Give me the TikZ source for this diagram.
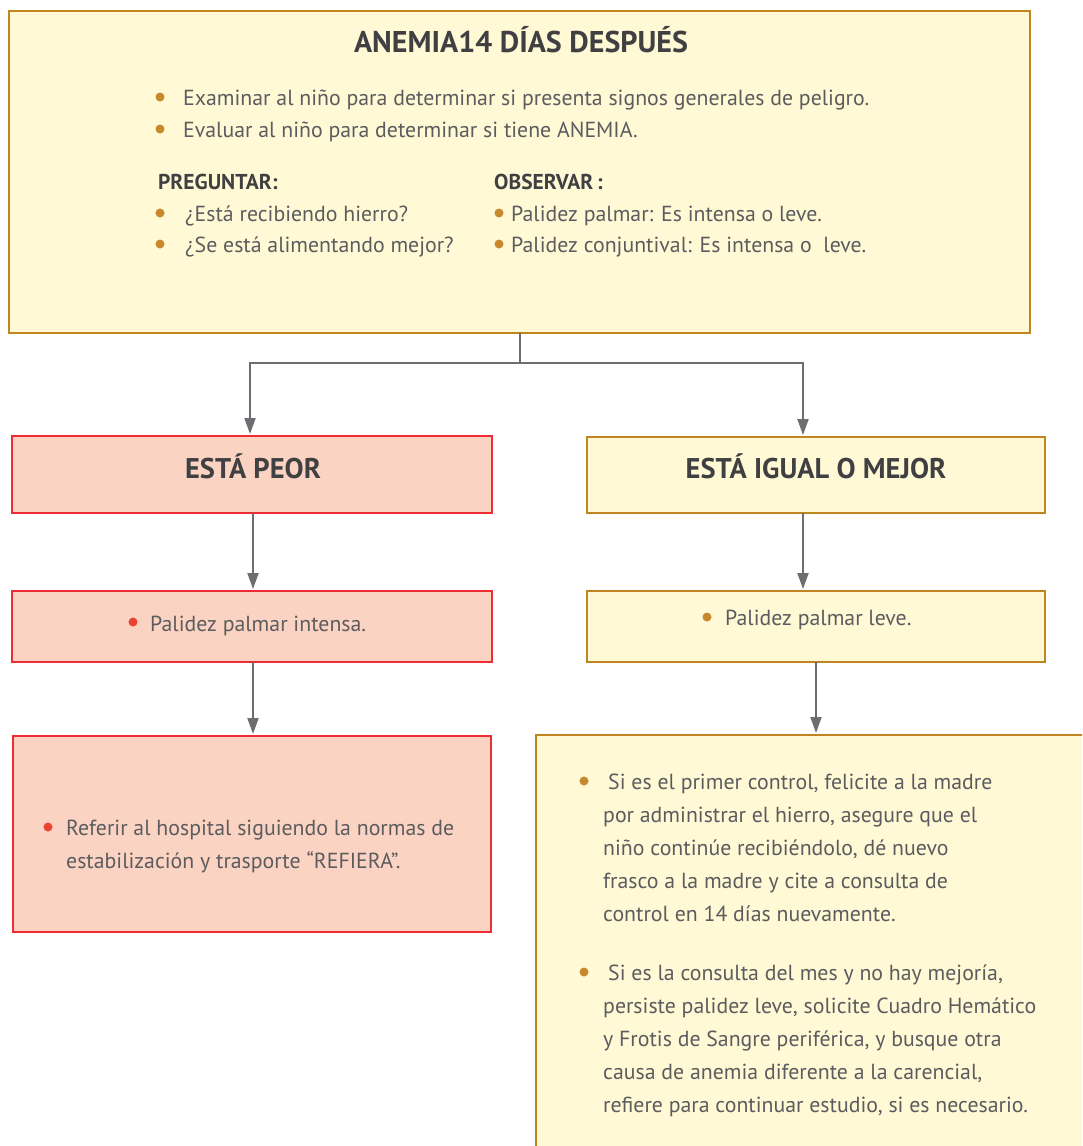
\documentclass[tikz,border=0pt]{standalone}
\usepackage{fontspec}
\setmainfont{PT Sans}
\usetikzlibrary{arrows.meta,calc}
\definecolor{goldline}{HTML}{BF8620}
\definecolor{goldfill}{HTML}{FFF9D5}
\definecolor{redline}{HTML}{EE2C34}
\definecolor{redfill}{HTML}{FBD3C2}
\definecolor{txt}{HTML}{5C5C5F}
\definecolor{head}{HTML}{404042}
\definecolor{golddot}{HTML}{C8892C}
\definecolor{reddot}{HTML}{EA4332}
\definecolor{conn}{HTML}{6D6E71}
\begin{document}
\begin{tikzpicture}[x=1pt,y=-1pt,
  box/.style={draw, line width=2.8pt, anchor=north west, inner sep=0pt, outer sep=0pt},
  goldbox/.style={box, draw=goldline, fill=goldfill},
  redbox/.style={box, draw=redline, fill=redfill},
  body/.style={anchor=base west, inner sep=0pt, text=txt, font=\fontsize{21.8}{33}\selectfont},
  heading/.style={anchor=base, inner sep=0pt, text=head, font=\fontsize{28.5}{32}\selectfont\bfseries},
  subhead/.style={anchor=base west, inner sep=0pt, text=head, font=\fontsize{21.5}{25}\selectfont\bfseries},
  link/.style={draw=conn, line width=2pt},
  flow/.style={link, -{Triangle[width=11pt,length=16pt]}, shorten >=2pt},
]
\useasboundingbox (0,0) rectangle (1082,1146);
\clip (0,0) rectangle (1082,1146);

% boxes
\node[goldbox, minimum width=1021pt, minimum height=322pt] (top) at (9,11) {};
\node[redbox, minimum width=480pt, minimum height=77pt] (peor) at (12,436) {};
\node[goldbox, minimum width=458pt, minimum height=76pt] (igual) at (587,437) {};
\node[redbox, minimum width=480pt, minimum height=71pt] (intensa) at (12,591) {};
\node[goldbox, minimum width=458pt, minimum height=71pt] (leve) at (587,591) {};
\node[redbox, minimum width=478pt, minimum height=196pt] (refiera) at (13,736) {};
\node[goldbox, minimum width=600pt, minimum height=500pt] (control) at (536,735) {};

% connectors
\coordinate (fork) at ($(top.south)+(0,30)$);
\draw[link] (top.south) -- (fork);
\draw[flow] (fork) -| ($(peor.north)+(-2,0)$);
\draw[flow] (fork) -| ($(igual.north west)+(216,0)$);
\draw[flow] ($(peor.south)+(1,0)$) -- ($(intensa.north)+(1,0)$);
\draw[flow] ($(igual.south west)+(216,0)$) -- ($(leve.north west)+(216,0)$);
\draw[flow] ($(intensa.south)+(1,0)$) -- ($(refiera.north)+(1,0)$);
\draw[flow] ($(leve.south west)+(229,0)$) -- ($(control.north west)+(280,0)$);

% top box
\node[heading, font=\fontsize{30}{34}\selectfont\bfseries] (title) at (521,52) {ANEMIA14 DÍAS DESPUÉS};
\fill[golddot] (160,97) circle (4.5pt);
\node[body] (t1) at (183,105) {Examinar al niño para determinar si presenta signos generales de peligro.};
\fill[golddot] (160,129) circle (4.5pt);
\node[body] (t2) at (183,137) {Evaluar al niño para determinar si tiene ANEMIA.};
\node[subhead] (preg) at (158,189) {PREGUNTAR:};
\node[subhead] (obs) at (494,189) {OBSERVAR\,:};
\fill[golddot] (160,213) circle (4.5pt);
\node[body] (p1) at (185,221) {¿Está recibiendo hierro?};
\fill[golddot] (160,244) circle (4.5pt);
\node[body] (p2) at (185,252) {¿Se está alimentando mejor?};
\fill[golddot] (499,213) circle (4.5pt);
\node[body] (o1) at (511,221) {Palidez palmar: Es intensa o leve.};
\fill[golddot] (499,244) circle (4.5pt);
\node[body] (o2) at (511,252) {Palidez conjuntival: Es intensa o\ \ leve.};

% headings of the two branches
\node[heading] (hpeor) at (253,478) {ESTÁ PEOR};
\node[heading] (higual) at (816,478) {ESTÁ IGUAL O MEJOR};

% second level
\fill[reddot] (133,622) circle (4.5pt);
\node[body] (ti) at (150,631) {Palidez palmar intensa.};
\fill[golddot] (707,617) circle (4.5pt);
\node[body] (tl) at (725,625) {Palidez palmar leve.};

% third level (multi-line nodes are placed by the baseline of their last line)
\fill[reddot] (48,827) circle (4.5pt);
\node[body, align=left] (tr) at (66,868) {Referir al hospital siguiendo la normas de\\estabilización y trasporte “REFIERA”.};
\fill[golddot] (584,781) circle (4.5pt);
\node[body, align=left] (tc1) at (603,921) {\hspace{5pt}Si es el primer control, felicite a la madre\\por administrar el hierro, asegure que el\\niño continúe recibiéndolo, dé nuevo\\frasco a la madre y cite a consulta de\\control en 14 días nuevamente.};
\fill[golddot] (584,972) circle (4.5pt);
\node[body, align=left] (tc2) at (603,1112) {\hspace{5pt}Si es la consulta del mes y no hay mejoría,\\persiste palidez leve, solicite Cuadro Hemático\\y Frotis de Sangre periférica, y busque otra\\causa de anemia diferente a la carencial,\\refiere para continuar estudio, si es necesario.};
\end{tikzpicture}
\end{document}
